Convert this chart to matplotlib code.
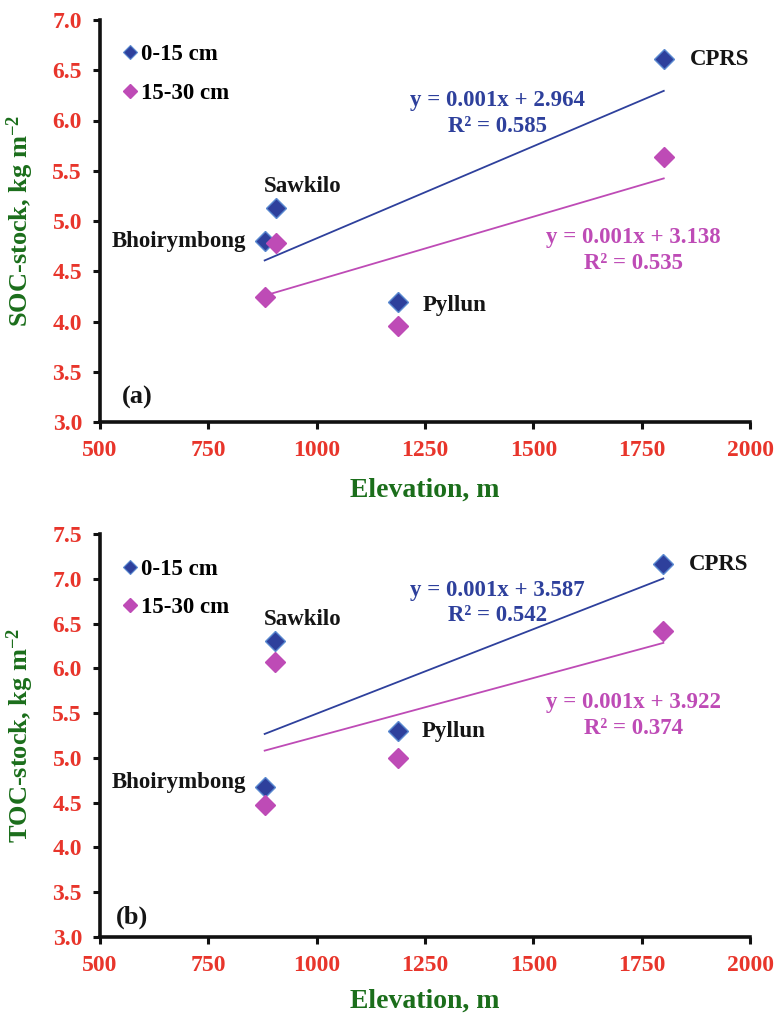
import numpy as np
import matplotlib
matplotlib.use("Agg")
import matplotlib.pyplot as plt
from matplotlib.lines import Line2D

plt.rcParams['font.family'] = ['Liberation Serif', 'DejaVu Serif']
plt.rcParams['font.weight'] = 'bold'
plt.rcParams['mathtext.fontset'] = 'custom'
plt.rcParams['mathtext.rm'] = 'Liberation Serif:bold'
plt.rcParams['mathtext.bf'] = 'Liberation Serif:bold'
plt.rcParams['mathtext.default'] = 'bf'

# ---- data ----
sites = ["Bhoirymbong", "Sawkilo", "Pyllun", "CPRS"]
elev_a = [880, 906, 1188, 1801]
soc_0_15 = [4.80, 5.13, 4.19, 6.61]
soc_15_30 = [4.24, 4.78, 3.96, 5.64]

elev_b = [880, 904, 1187, 1800]
toc_0_15 = [4.67, 6.30, 5.30, 7.16]
toc_15_30 = [4.47, 6.07, 5.00, 6.42]

series_labels = ["0-15 cm", "15-30 cm"]
eq_a = ["y = 0.001x + 2.964\nR² = 0.585", "y = 0.001x + 3.138\nR² = 0.535"]
eq_b = ["y = 0.001x + 3.587\nR² = 0.542", "y = 0.001x + 3.922\nR² = 0.374"]
xticks = [500, 750, 1000, 1250, 1500, 1750, 2000]

BLUE = '#2E409C'
BLUE_EDGE = '#5A8AD0'
PINK = '#BE4BB6'
RED = '#E8352B'
GREEN = '#1B6E1B'
DARK = '#151515'

fig = plt.figure(figsize=(7.78, 10.17), dpi=100)
ax_a = fig.add_axes([100/778, 1-422/1017, 650/778, 402/1017])
ax_b = fig.add_axes([100/778, 1-937/1017, 650/778, 403/1017])


def style(ax, ylim, yticks, ylabel, xlab_y):
    ax.set_xlim(500, 2000)
    ax.set_ylim(*ylim)
    ax.set_xticks(xticks)
    ax.set_yticks(yticks)
    ax.set_yticklabels([f"{v:.1f}" for v in yticks])
    for s in ['top', 'right']:
        ax.spines[s].set_visible(False)
    for s in ['left', 'bottom']:
        ax.spines[s].set_linewidth(2.6)
        ax.spines[s].set_color('#111111')
    ax.tick_params(axis='both', direction='out', length=5, width=2.2,
                   colors='#111111', labelcolor=RED, labelsize=17)
    ax.tick_params(axis='x', pad=8)
    ax.tick_params(axis='y', pad=8)
    ax.set_xlabel("Elevation, m", color=GREEN, fontsize=20, fontweight='bold')
    ax.set_ylabel(ylabel, color=GREEN, fontsize=19, fontweight='bold')
    ax.yaxis.set_label_coords(-0.098, 0.5)
    ax.xaxis.set_label_coords(0.5, xlab_y)


def draw(ax, x, y1, y2):
    x = np.array(x, float)
    for y, fc, ec in [(y1, BLUE, BLUE_EDGE), (y2, PINK, PINK)]:
        ax.plot(x, y, linestyle='none', marker='D', markersize=10,
                markerfacecolor=fc, markeredgecolor=ec, markeredgewidth=1.0, zorder=3)
        k, b = np.polyfit(x, np.array(y, float), 1)
        xs = np.array([x.min(), x.max()])
        ax.plot(xs, k*xs + b, color=fc, lw=1.3, zorder=2)
    handles = [Line2D([], [], linestyle='none', marker='D', markersize=7.5,
                      markerfacecolor=BLUE, markeredgecolor=BLUE_EDGE, markeredgewidth=0.8),
               Line2D([], [], linestyle='none', marker='D', markersize=7.5,
                      markerfacecolor=PINK, markeredgecolor=PINK)]
    return handles


legend_kw = dict(loc='upper left', frameon=False, handlelength=0.8, handletextpad=0.1,
                 labelspacing=0.75, borderaxespad=0,
                 prop={'family': 'Liberation Serif', 'weight': 'bold', 'size': 16.5})
txt = dict(fontsize=16.5, fontweight='bold')

# panel (a)
style(ax_a, (3.0, 7.0), np.arange(3.0, 7.01, 0.5), "SOC-stock, kg m$^{-2}$", -0.139)
h = draw(ax_a, elev_a, soc_0_15, soc_15_30)
ax_a.legend(h, series_labels, bbox_to_anchor=(0.018, 0.962), **legend_kw)
ax_a.text(968, 5.34, sites[1], ha='center', va='center', color=DARK, **txt)
ax_a.text(837, 4.80, sites[0], ha='right', va='center', color=DARK, **txt)
ax_a.text(1245, 4.16, sites[2], ha='left', va='center', color=DARK, **txt)
ax_a.text(1862, 6.61, sites[3], ha='left', va='center', color=DARK, **txt)
ax_a.text(1418, 6.07, eq_a[0], ha='center', va='center', color=BLUE, linespacing=1.3, **txt)
ax_a.text(1730, 4.71, eq_a[1], ha='center', va='center', color=PINK, linespacing=1.3, **txt)
ax_a.text(551, 3.24, "(a)", ha='left', va='center', color=DARK, fontsize=19, fontweight='bold')

# panel (b)
style(ax_b, (3.0, 7.5), np.arange(3.0, 7.51, 0.5), "TOC-stock, kg m$^{-2}$", -0.127)
h = draw(ax_b, elev_b, toc_0_15, toc_15_30)
ax_b.legend(h, series_labels, bbox_to_anchor=(0.018, 0.962), **legend_kw)
ax_b.text(968, 6.55, sites[1], ha='center', va='center', color=DARK, **txt)
ax_b.text(837, 4.72, sites[0], ha='right', va='center', color=DARK, **txt)
ax_b.text(1243, 5.29, sites[2], ha='left', va='center', color=DARK, **txt)
ax_b.text(1859, 7.16, sites[3], ha='left', va='center', color=DARK, **txt)
ax_b.text(1418, 6.73, eq_b[0], ha='center', va='center', color=BLUE, linespacing=1.3, **txt)
ax_b.text(1730, 5.47, eq_b[1], ha='center', va='center', color=PINK, linespacing=1.3, **txt)
ax_b.text(537, 3.22, "(b)", ha='left', va='center', color=DARK, fontsize=19, fontweight='bold')

fig.savefig("out.png", dpi=100)
